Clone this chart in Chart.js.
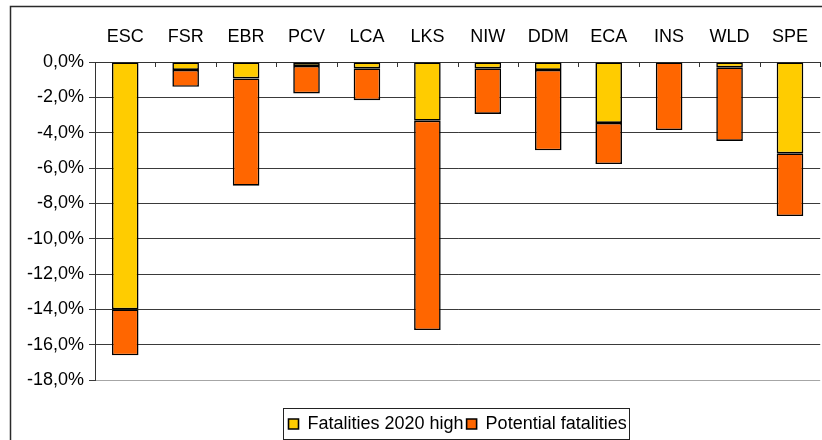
<!DOCTYPE html>
<html>
<head>
<meta charset="utf-8">
<script src="https://cdn.jsdelivr.net/npm/chart.js@4/dist/chart.umd.min.js"></script>
<style>
  html, body { margin: 0; padding: 0; background: #fff; overflow: hidden; }
  #wrap { position: relative; width: 822px; height: 446px; }
</style>
</head>
<body>
<div id="wrap"><canvas id="c"></canvas></div>
<script>
// Regions
const categories = ['ESC', 'FSR', 'EBR', 'PCV', 'LCA', 'LKS', 'NIW', 'DDM', 'ECA', 'INS', 'WLD', 'SPE'];

// Change in fatalities, percent
const fatalities2020High = [-14.0, -0.45, -0.93, -0.22, -0.36, -3.32, -0.36, -0.45, -3.45, 0, -0.3, -5.17];
const potentialFatalities = [-2.6, -0.95, -6.07, -1.56, -1.8, -11.85, -2.58, -4.55, -2.33, -3.85, -4.17, -3.55];

const seriesNames = ['Fatalities 2020 high', 'Potential fatalities'];

// Value axis range and step
const yMin = -18;
const yMax = 0;
const yStep = 2;

const FONT = { family: '"Liberation Sans", Arial, sans-serif', size: 18 };

// Outer chart frame
const framePlugin = {
  id: 'frame',
  beforeDraw(chart) {
    const ctx = chart.ctx;
    ctx.save();
    ctx.strokeStyle = '#2a2a2a';
    ctx.lineWidth = 1.5;
    ctx.strokeRect(10.5, 6.5, 1000, 1000);
    ctx.restore();
  }
};

// Short category ticks pointing down from the zero line
const innerTicksPlugin = {
  id: 'innerTicks',
  afterDraw(chart) {
    const xs = chart.scales.x;
    const area = chart.chartArea;
    const n = categories.length;
    const half = (xs.getPixelForValue(1) - xs.getPixelForValue(0)) / 2;
    const ctx = chart.ctx;
    ctx.save();
    ctx.strokeStyle = '#333';
    ctx.lineWidth = 1;
    ctx.beginPath();
    for (let i = 0; i <= n; i++) {
      const x = Math.round(xs.getPixelForValue(i) - half) + 0.5;
      ctx.moveTo(x, area.top);
      ctx.lineTo(x, area.top + 5);
    }
    ctx.stroke();
    ctx.restore();
  }
};

// Box around the legend
const legendBoxPlugin = {
  id: 'legendBox',
  afterDraw(chart) {
    const boxes = chart.legend && chart.legend.legendHitBoxes;
    if (!boxes || !boxes.length) return;
    const first = boxes[0];
    const last = boxes[boxes.length - 1];
    const cy = first.top + first.height / 2;
    const ctx = chart.ctx;
    ctx.save();
    ctx.strokeStyle = '#222';
    ctx.lineWidth = 1;
    const l = Math.round(first.left - 6) + 0.5;
    const r = Math.round(last.left + last.width + 2) + 0.5;
    const t = Math.round(cy - 16) + 0.5;
    const b = Math.round(cy + 15) + 0.5;
    ctx.strokeRect(l, t, r - l, b - t);
    ctx.restore();
  }
};

new Chart(document.getElementById('c'), {
  type: 'bar',
  data: {
    labels: categories,
    datasets: [
      {
        label: seriesNames[0],
        data: fatalities2020High,
        backgroundColor: '#FFCC00',
        borderColor: '#000',
        borderWidth: 1.6,
        borderSkipped: false,
        stack: 's'
      },
      {
        label: seriesNames[1],
        data: potentialFatalities,
        backgroundColor: '#FF6600',
        borderColor: '#000',
        borderWidth: 1.6,
        borderSkipped: false,
        stack: 's'
      }
    ]
  },
  options: {
    responsive: true,
    maintainAspectRatio: false,
    animation: false,
    layout: { padding: { left: 0, right: 0, top: 0, bottom: 3 } },
    datasets: { bar: { categoryPercentage: 1, barPercentage: 0.44 } },
    scales: {
      x: {
        position: 'top',
        stacked: true,
        grid: { display: true, drawOnChartArea: false, drawTicks: false },
        border: { display: true, color: '#333', width: 1 },
        ticks: { color: '#000', font: FONT, padding: 14, maxRotation: 0, autoSkip: false },
        afterFit(s) { s.height = 62; }
      },
      gap: {
        axis: 'x',
        type: 'category',
        position: 'bottom',
        display: true,
        grid: { display: false },
        border: { display: false },
        ticks: { display: false },
        afterFit(s) { s.height = 32; }
      },
      y: {
        stacked: true,
        min: yMin,
        max: yMax,
        ticks: {
          stepSize: yStep,
          color: '#000',
          font: FONT,
          padding: 5,
          callback: v => v.toFixed(1).replace('-0.0', '0.0').replace('.', ',') + '%'
        },
        grid: {
          color: ctx => (ctx.tick && ctx.tick.value === yMin) ? '#a6a6a6' : '#3a3a3a',
          lineWidth: 1,
          tickLength: 6,
          tickColor: '#3a3a3a'
        },
        border: { display: true, color: '#333', width: 1 },
        afterFit(s) { s.width = 95; }
      }
    },
    plugins: {
      legend: {
        position: 'bottom',
        fullSize: false,
        labels: {
          color: '#000',
          font: FONT,
          boxWidth: 10,
          boxHeight: 10,
          padding: 3
        }
      },
      tooltip: { enabled: false }
    }
  },
  plugins: [framePlugin, innerTicksPlugin, legendBoxPlugin]
});
</script>
</body>
</html>
